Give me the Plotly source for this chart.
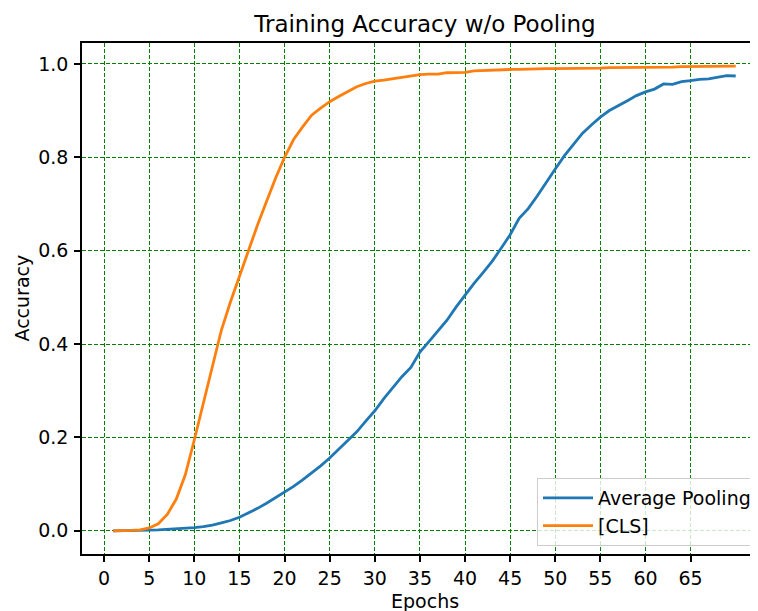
import plotly.graph_objects as go

epochs = list(range(1, 71))

avg_pooling = [
    0.000, 0.000, 0.0005, 0.001, 0.0015, 0.002, 0.003, 0.004, 0.005, 0.007,
    0.009, 0.012, 0.017, 0.022, 0.029, 0.038, 0.048, 0.059, 0.071, 0.083,
    0.095, 0.109, 0.124, 0.139, 0.156, 0.175, 0.193, 0.212, 0.235, 0.257,
    0.283, 0.307, 0.330, 0.350, 0.383, 0.405, 0.427, 0.451, 0.479, 0.505,
    0.530, 0.553, 0.577, 0.605, 0.634, 0.669, 0.690, 0.717, 0.747, 0.775,
    0.803, 0.826, 0.851, 0.869, 0.886, 0.900, 0.910, 0.921, 0.932, 0.940,
    0.946, 0.957, 0.956, 0.962, 0.964, 0.967, 0.968, 0.971, 0.975, 0.974,
]

cls_token = [
    0.000, 0.000, 0.001, 0.002, 0.006, 0.015, 0.035, 0.068, 0.120, 0.195,
    0.275, 0.355, 0.430, 0.490, 0.545, 0.600, 0.655, 0.705, 0.755, 0.800,
    0.838, 0.865, 0.890, 0.905, 0.919, 0.930, 0.941, 0.951, 0.958, 0.963,
    0.965, 0.968, 0.971, 0.974, 0.977, 0.978, 0.978, 0.981, 0.981, 0.982,
    0.985, 0.986, 0.987, 0.987, 0.988, 0.988, 0.989, 0.989, 0.990, 0.990,
    0.990, 0.991, 0.991, 0.991, 0.991, 0.992, 0.992, 0.992, 0.993, 0.993,
    0.993, 0.993, 0.993, 0.994, 0.994, 0.994, 0.994, 0.995, 0.995, 0.995,
]

x_ticks = list(range(0, 70, 5))
y_ticks = [0.0, 0.2, 0.4, 0.6, 0.8, 1.0]

FONT = "DejaVu Sans"

fig = go.Figure()
fig.add_trace(go.Scatter(x=epochs, y=avg_pooling, mode="lines", name="Average Pooling",
                         line=dict(color="#1f77b4", width=2.8)))
fig.add_trace(go.Scatter(x=epochs, y=cls_token, mode="lines", name="[CLS]",
                         line=dict(color="#ff7f0e", width=2.8)))

# page has an 8px body margin; place the figure so that it lines up with the page corner
OFF = 8
W, H = 758 - OFF, 611 - OFF
L = 82 - OFF
T = 43 - OFF
PLOT_BOTTOM = 554 - OFF
R = 0
B = H - PLOT_BOTTOM
pw = W - L - R
ph = H - T - B


def px_x(page_x):
    return (page_x - OFF - L) / pw


def px_y(page_y):
    return (PLOT_BOTTOM - (page_y - OFF)) / ph


fig.update_layout(
    width=W, height=H,
    margin=dict(l=L, r=R, t=T, b=B),
    paper_bgcolor="white", plot_bgcolor="white",
    font=dict(family=FONT, size=19, color="black"),
    title=dict(text="Training Accuracy w/o Pooling", font=dict(size=23, family=FONT, color="black"),
               x=px_x(425), xref="paper", xanchor="center",
               y=1 - (24 - OFF) / H, yref="container", yanchor="middle"),
    showlegend=True,
    legend=dict(x=px_x(757), xanchor="right", y=px_y(546), yanchor="bottom",
                bgcolor="rgba(255,255,255,0.8)", bordercolor="#cccccc", borderwidth=1,
                font=dict(size=19, family=FONT, color="black"),
                itemwidth=50, tracegroupgap=0),
    xaxis=dict(range=[-2.45, -2.45 + pw / 9.023], tickmode="array", tickvals=x_ticks,
               ticktext=[str(v) for v in x_ticks],
               showline=True, linecolor="black", linewidth=1.5, mirror=True,
               ticks="outside", ticklen=6, tickwidth=1.5, tickcolor="black",
               showgrid=True, gridcolor="green", gridwidth=1, griddash="4px,2px",
               zeroline=False, tickfont=dict(size=19, family=FONT, color="black"),
               ticklabelstandoff=0),
    yaxis=dict(range=[-0.0497, 1.0447], tickmode="array", tickvals=y_ticks,
               ticktext=[f"{v:.1f}" for v in y_ticks],
               showline=True, linecolor="black", linewidth=1.5, mirror=False,
               ticks="outside", ticklen=6, tickwidth=1.5, tickcolor="black",
               showgrid=True, gridcolor="green", gridwidth=1, griddash="4px,2px",
               zeroline=False, tickfont=dict(size=19, family=FONT, color="black"),
               ticklabelstandoff=2),
    annotations=[
        dict(text="Epochs", xref="paper", yref="paper", x=px_x(425), y=px_y(588),
             xanchor="center", yanchor="top", showarrow=False,
             font=dict(size=19, family=FONT, color="black")),
        dict(text="Accuracy", xref="paper", yref="paper", x=px_x(21), y=0.5,
             xanchor="center", yanchor="middle", textangle=-90, showarrow=False,
             font=dict(size=19, family=FONT, color="black")),
    ],
)

fig.write_html("out.html")
